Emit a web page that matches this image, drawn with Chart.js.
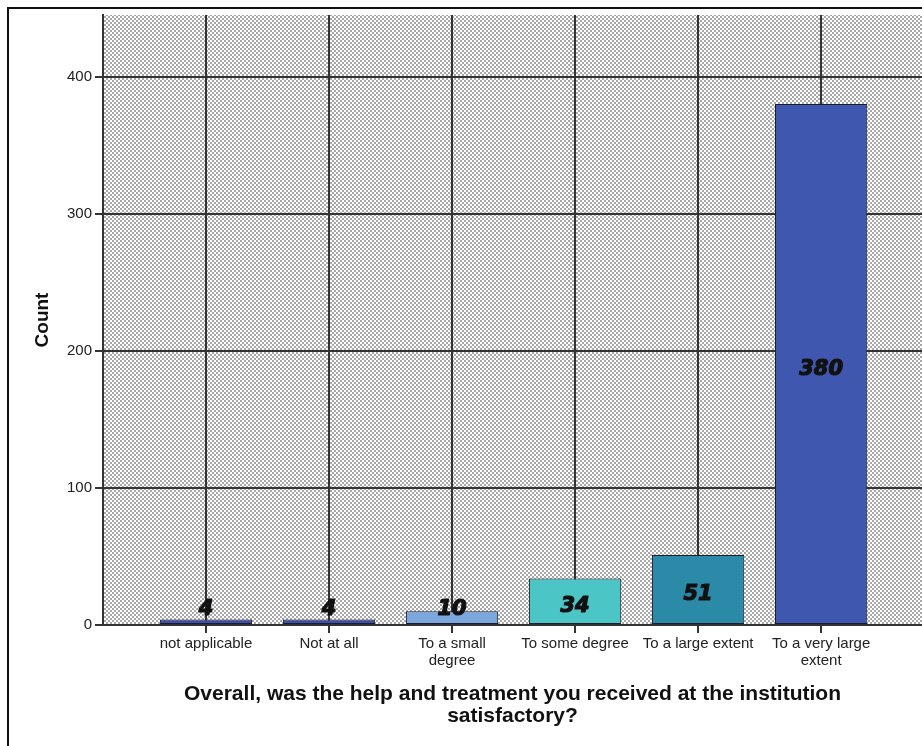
<!DOCTYPE html>
<html>
<head>
<meta charset="utf-8">
<script src="https://cdn.jsdelivr.net/npm/chart.js@4/dist/chart.umd.min.js"></script>
<style>
  html, body { margin: 0; padding: 0; background: #fff; overflow: hidden; }
  #wrap { position: relative; width: 922px; height: 746px; }
  #frame { position: absolute; left: 7px; top: 7px; right: -4px; bottom: -4px;
           border-top: 2px solid #111; border-left: 2px solid #111; pointer-events: none; }
  canvas { display: block; }
</style>
</head>
<body>
<div id="wrap">
  <canvas id="chart" width="922" height="746"></canvas>
  <div id="frame"></div>
</div>
<script>
// Response categories (tick labels, wrapped as drawn under the axis)
const categories = [
  'not applicable',
  'Not at all',
  'To a small degree',
  'To some degree',
  'To a large extent',
  'To a very large extent'
];
const tickLabels = [
  ['not applicable'],
  ['Not at all'],
  ['To a small', 'degree'],
  ['To some degree'],
  ['To a large extent'],
  ['To a very large', 'extent']
];
const counts = [4, 4, 10, 34, 51, 380];
const barColors = ['#3e51a8', '#3e51a8', '#7ba7dc', '#4bc5c5', '#2a8aa8', '#3f57ae'];
const yTicks = [0, 100, 200, 300, 400];

const xTitle = ['Overall, was the help and treatment you received at the institution', 'satisfactory?'];
const yTitle = 'Count';

// dotted grey fill for the plot area
function makePattern(ctx) {
  const tile = document.createElement('canvas');
  tile.width = 4; tile.height = 4;
  const t = tile.getContext('2d');
  t.fillStyle = '#ffffff';
  t.fillRect(0, 0, 4, 4);
  t.fillStyle = '#a8a8a8';
  t.fillRect(0, 0, 2, 2);
  t.fillRect(2, 2, 2, 2);
  return ctx.createPattern(tile, 'repeat');
}

const plotBackground = {
  id: 'plotBackground',
  beforeDraw(chart) {
    const { ctx, chartArea: a } = chart;
    ctx.save();
    ctx.fillStyle = makePattern(ctx);
    ctx.fillRect(a.left, a.top, a.right - a.left, a.bottom - a.top);
    ctx.restore();
  }
};

// count printed on each bar
const barValues = {
  id: 'barValues',
  afterDatasetsDraw(chart) {
    const { ctx } = chart;
    const meta = chart.getDatasetMeta(0);
    const zeroY = chart.scales.y.getPixelForValue(0);
    ctx.save();
    ctx.font = 'italic bold 21px "DejaVu Sans", sans-serif';
    ctx.fillStyle = '#111';
    ctx.strokeStyle = '#111';
    ctx.lineWidth = 1.2;
    ctx.lineJoin = 'round';
    ctx.textAlign = 'center';
    ctx.textBaseline = 'middle';
    meta.data.forEach((bar, i) => {
      const mid = (bar.y + bar.base) / 2;
      const y = Math.min(mid + 5, zeroY - 15);
      ctx.fillText(String(counts[i]), bar.x, y);
      ctx.strokeText(String(counts[i]), bar.x, y);
    });
    ctx.restore();
  }
};

const gridStyle = { color: '#333', lineWidth: 2, tickLength: 8, tickColor: '#333', offset: false };

new Chart(document.getElementById('chart'), {
  type: 'bar',
  data: {
    datasets: [{
      label: yTitle,
      data: counts.map((c, i) => ({ x: i, y: c })),
      backgroundColor: barColors,
      borderColor: '#1b1d2e',
      borderWidth: 1,
      borderSkipped: false,
      barPercentage: 0.75,
      categoryPercentage: 1.0
    }]
  },
  options: {
    responsive: false,
    animation: false,
    layout: { padding: { top: 15, left: 0, right: 0, bottom: 0 } },
    plugins: {
      legend: { display: false },
      tooltip: { enabled: false }
    },
    scales: {
      x: {
        type: 'linear',
        offset: false,
        min: -0.837,
        max: 5.82,
        afterFit(scale) { scale.height = 121; },
        afterBuildTicks(scale) { scale.ticks = categories.map((_, i) => ({ value: i })); },
        ticks: {
          autoSkip: false,
          maxRotation: 0,
          padding: 3,
          color: '#222',
          font: { family: '"Liberation Sans", Arial, sans-serif', size: 15, lineHeight: 1.1 },
          callback: (v) => tickLabels[v]
        },
        grid: gridStyle,
        border: { color: '#333', width: 2 },
        title: {
          display: true,
          text: xTitle,
          color: '#111',
          font: { family: '"Liberation Sans", Arial, sans-serif', size: 21, weight: 'bold', lineHeight: 1.05 },
          padding: { top: 0, bottom: 19 }
        }
      },
      y: {
        min: 0,
        max: 445,
        afterFit(scale) { scale.width = 103; },
        afterBuildTicks(scale) { scale.ticks = yTicks.map(v => ({ value: v })); },
        ticks: {
          padding: 3,
          color: '#222',
          font: { family: '"Liberation Sans", Arial, sans-serif', size: 15 }
        },
        grid: gridStyle,
        border: { color: '#333', width: 2 },
        title: {
          display: true,
          text: yTitle,
          color: '#111',
          font: { family: '"Liberation Sans", Arial, sans-serif', size: 19, weight: 'bold', lineHeight: 1.2 },
          padding: { top: 31, bottom: 0 }
        }
      }
    }
  },
  plugins: [plotBackground, barValues]
});
</script>
</body>
</html>
